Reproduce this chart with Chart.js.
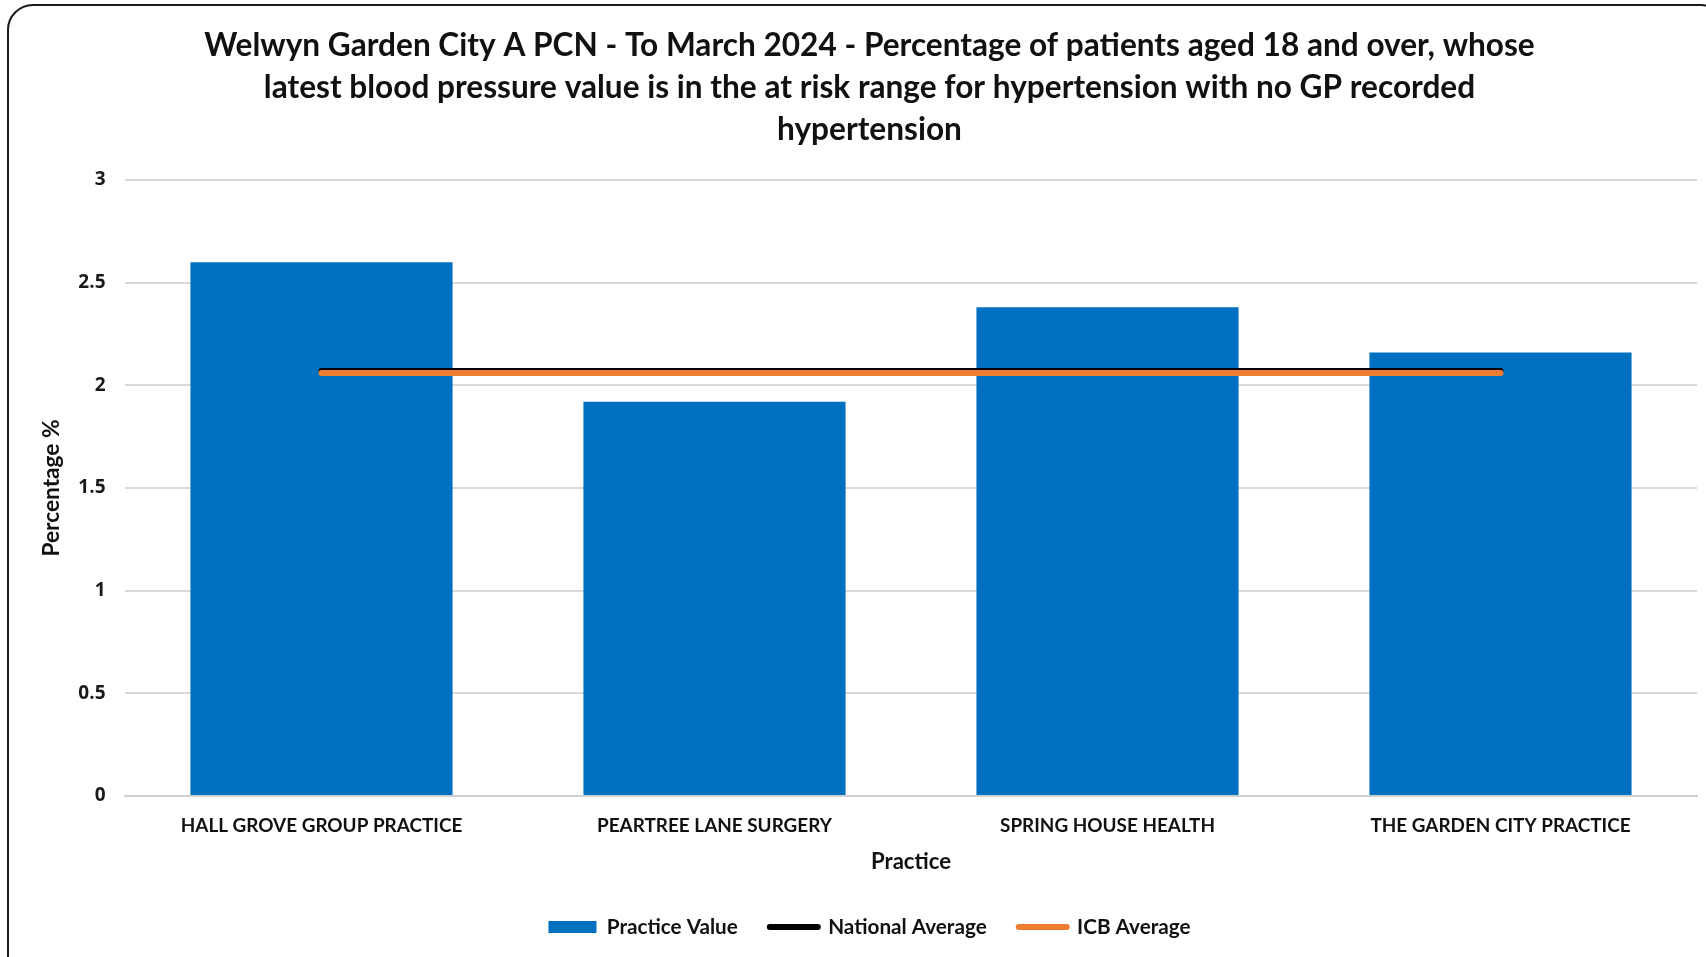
<!DOCTYPE html>
<html>
<head>
<meta charset="utf-8">
<script src="https://cdn.jsdelivr.net/npm/chart.js@4.4.1/dist/chart.umd.min.js"></script>
<style>
  html, body { margin:0; padding:0; background:#fff; overflow:hidden; width:1706px; height:957px; }
  #frame { position:absolute; left:7px; top:4px; width:1720px; height:1000px; border:2.5px solid #1b1b1b; border-radius:26px; box-sizing:border-box; }
  #wrap { position:absolute; left:0; top:0; width:1706px; height:957px; }
</style>
</head>
<body>
<div id="frame"></div>
<div id="wrap"><canvas id="chart" width="1706" height="957"></canvas></div>
<script>
/* ======= Data ======= */
const TITLE_LINES = [
  'Welwyn Garden City A PCN - To March 2024 - Percentage of patients aged 18 and over, whose',
  'latest blood pressure value is in the at risk range for hypertension with no GP recorded',
  'hypertension'
];
const PRACTICES = ['HALL GROVE GROUP PRACTICE', 'PEARTREE LANE SURGERY', 'SPRING HOUSE HEALTH', 'THE GARDEN CITY PRACTICE'];
const PRACTICE_VALUES = [2.6, 1.92, 2.38, 2.16];
const NATIONAL_AVG = [2.07, 2.07, 2.07, 2.07];
const ICB_AVG = [2.06, 2.06, 2.06, 2.06];
const Y_TICKS = [0, 0.5, 1, 1.5, 2, 2.5, 3];
const Y_TICK_LABELS = ['0', '0.5', '1', '1.5', '2', '2.5', '3'];

/* ======= Fonts ======= */
const NARROW = "Lato, 'DejaVu Sans', sans-serif";
const measureCtx = document.createElement('canvas').getContext('2d');
// pick a font size so the text spans the width seen in the reference
function fitSize(text, family, weight, target) {
  measureCtx.font = weight + ' 100px ' + family;
  return Math.round(1000 * target / measureCtx.measureText(text).width) / 10;
}
const titleSize  = fitSize(TITLE_LINES[0], NARROW, 'bold', 1332);
const xTickSize  = fitSize(PRACTICES[0], NARROW, 'bold', 282);
const xTitleSize = fitSize('Practice', NARROW, 'bold', 80);
const yTitleSize = fitSize('Percentage %', NARROW, 'bold', 137);
const legendSize = fitSize('National Average', NARROW, 'bold', 159);

/* ======= Layout ======= */
const AREA = { left:125, right:1697, top:180, bottom:796 };
const PAD_LEFT = 42;
const LEGEND_PAD = 32;
const legendTop = 927 - LEGEND_PAD - legendSize / 2;
const padBottom = 957 - (legendTop + legendSize + LEGEND_PAD + 10);

const datasets = [
  { type:'bar', label:'Practice Value', data:PRACTICE_VALUES, backgroundColor:'#0070C0', borderWidth:0,
    barPercentage:0.667, categoryPercentage:1, order:3 },
  { type:'line', label:'National Average', data:NATIONAL_AVG, borderColor:'#000000', backgroundColor:'#000000',
    borderWidth:6, borderCapStyle:'round', pointRadius:0, pointHoverRadius:0, pointBorderWidth:6,
    pointBorderColor:'#000000', pointStyle:'line', fill:false, tension:0, order:2 },
  { type:'line', label:'ICB Average', data:ICB_AVG, borderColor:'#ED7D31', backgroundColor:'#ED7D31',
    borderWidth:6, borderCapStyle:'round', pointRadius:0, pointHoverRadius:0, pointBorderWidth:6,
    pointBorderColor:'#ED7D31', pointStyle:'line', fill:false, tension:0, order:1 }
];

const ctx = document.getElementById('chart').getContext('2d');
new Chart(ctx, {
  type:'bar',
  data:{ labels:PRACTICES, datasets:datasets },
  options:{
    responsive:false, animation:false, devicePixelRatio:1,
    layout:{ padding:{ left:PAD_LEFT, right:1706 - AREA.right, top:0, bottom:padBottom } },
    plugins:{
      tooltip:{ enabled:false },
      title:{
        display:true, text:TITLE_LINES, color:'#111',
        font:{ family:NARROW, size:titleSize, weight:'bold', lineHeight:'42px' },
        padding:{ top:24.7, bottom:AREA.top - 24.7 - 3 * 42 }
      },
      legend:{
        position:'bottom',
        labels:{
          color:'#111', font:{ family:NARROW, size:legendSize, weight:'bold' },
          usePointStyle:true, pointStyleWidth:48, boxHeight:12, padding:LEGEND_PAD,
          sort:(a, b) => a.datasetIndex - b.datasetIndex,
          generateLabels:(chart) => {
            const items = Chart.defaults.plugins.legend.labels.generateLabels(chart);
            items.forEach(it => {
              if (it.datasetIndex === 0) { it.pointStyle = 'rect'; it.lineWidth = 0; }
              else { it.pointStyle = 'line'; it.lineCap = 'round'; it.lineWidth = 6; }
            });
            return items;
          }
        }
      }
    },
    scales:{
      x:{
        grid:{ display:false, drawTicks:false },
        border:{ display:true, color:'#d0d0d0', width:2 },
        ticks:{ color:'#111', font:{ family:NARROW, size:xTickSize, weight:'bold' }, padding:30 - xTickSize * 0.6,
          maxRotation:0, autoSkip:false },
        title:{ display:true, text:'Practice', color:'#111',
          font:{ family:NARROW, size:xTitleSize, weight:'bold', lineHeight:1.2 },
          padding:{ top:0, bottom:legendTop - 862 - xTitleSize * 0.6 } },
        afterFit:(scale) => { scale.height = legendTop - AREA.bottom; }
      },
      y:{
        min:0, max:3,
        afterBuildTicks:(scale) => { scale.ticks = Y_TICKS.map(v => ({ value:v })); },
        grid:{ color:'#d9d9d9', lineWidth:2, drawTicks:false },
        border:{ display:false },
        ticks:{ color:'#1a1a1a', font:{ family:"'Open Sans', sans-serif", size:19, weight:'bold' }, padding:19.5,
          callback:(value, i) => Y_TICK_LABELS[i] },
        title:{ display:true, text:'Percentage %', color:'#111',
          font:{ family:NARROW, size:yTitleSize, weight:'bold', lineHeight:1 },
          padding:{ top:52 - PAD_LEFT - yTitleSize / 2, bottom:0 } },
        afterFit:(scale) => { scale.width = AREA.left - PAD_LEFT; }
      }
    }
  }
});
</script>
</body>
</html>
